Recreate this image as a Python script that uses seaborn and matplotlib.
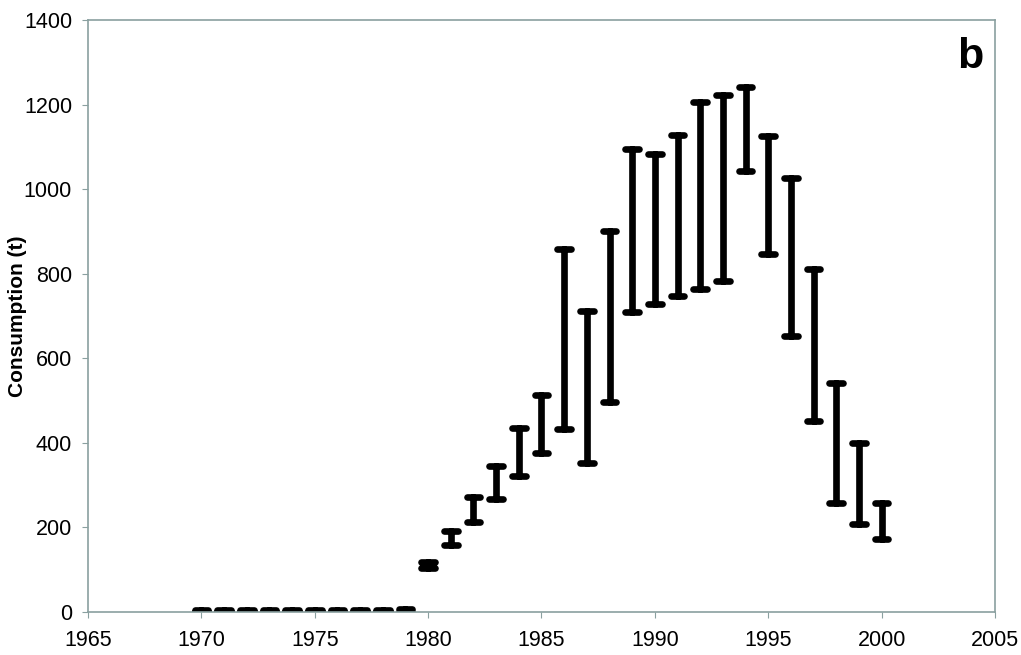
import numpy as np
import pandas as pd
import matplotlib
matplotlib.use("Agg")
import matplotlib.pyplot as plt
import seaborn as sns

years = list(range(1970, 2001))
low = [0, 0, 0, 0, 0, 0, 0, 0, 0, 0,
       103, 157, 211, 266, 321, 376, 432, 351, 496, 709,
       728, 746, 764, 782, 1043, 846, 651, 452, 257, 207, 172]
high = [4, 4, 4, 4, 4, 4, 4, 4, 4, 7,
        117, 191, 270, 344, 434, 513, 859, 711, 901, 1094,
        1083, 1129, 1205, 1222, 1242, 1126, 1025, 811, 540, 400, 257]

sns.set_style("white")
plt.rcParams['font.family'] = ['Liberation Sans', 'DejaVu Sans']
plt.rcParams['text.color'] = 'black'
plt.rcParams['xtick.color'] = 'black'
plt.rcParams['ytick.color'] = 'black'
plt.rcParams['axes.labelcolor'] = 'black'

df = pd.DataFrame({
    "year": years * 2,
    "consumption": low + high,
})

fig = plt.figure(figsize=(10.21, 6.55), dpi=100)
ax = fig.add_axes([0.0862, 0.0664, 0.8883, 0.903])

sns.pointplot(data=df, x="year", y="consumption", native_scale=True,
              errorbar=("pi", 100), estimator="mean", color="black",
              markers="", linestyles="none", capsize=0.6,
              err_kws={"linewidth": 4.8, "solid_capstyle": "round"},
              ax=ax)

ax.set_xlim(1965, 2005)
ax.set_ylim(0, 1400)
ax.set_xticks(range(1965, 2006, 5))
ax.set_yticks(range(0, 1401, 200))
ax.set_xlabel("")
ax.set_ylabel("")
ax.text(-0.0772, 0.5, "Consumption (t)", transform=ax.transAxes,
        fontsize=15, fontweight="bold", rotation=90,
        ha="center", va="center", color="black")
ax.tick_params(axis="both", labelsize=15.5, length=4.5, width=0.8,
               color="#8aa0a0", labelcolor="black", direction="out",
               bottom=True, left=True)
ax.tick_params(axis="x", pad=9)
ax.tick_params(axis="y", pad=7)
for s in ax.spines.values():
    s.set_color("#8aa0a0")
    s.set_linewidth(1.2)
    s.set_visible(True)

ax.text(0.987, 0.937, "b", transform=ax.transAxes, fontsize=31,
        fontweight="bold", ha="right", va="center", color="black")

fig.savefig("out.png", dpi=100)
